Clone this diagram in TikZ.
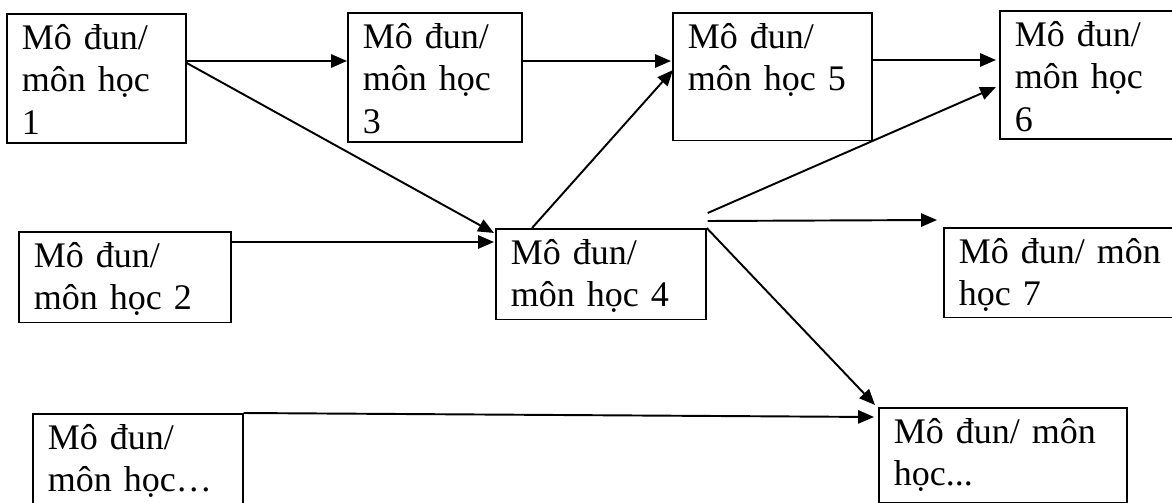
\documentclass[tikz,border=0pt]{standalone}
\usepackage{fontspec}
\setmainfont{Liberation Serif}
\usetikzlibrary{arrows.meta, calc}

\tikzset{
  modbox/.style 2 args={draw, line width=1pt, anchor=north west, align=left,
    inner xsep=0.3cm, inner ysep=2pt, text height=18pt,
    text width=#1, text depth=#2},
  arr/.style={line width=1.1pt, -{Triangle[length=9pt,width=7.5pt]}}
}

\begin{document}
\begin{tikzpicture}[x=0.02cm, y=-0.02cm, font=\fontsize{20.5}{24.4}\selectfont]
\useasboundingbox (0,0) rectangle (1172,503);

% top row
\node[modbox={2.98cm}{51.7pt}] (m1) at (6,13) {Mô đun/\\môn học\\1};
\node[modbox={2.88cm}{51.7pt}] (m3) at (347,12) {Mô đun/\\môn học\\3};
\node[modbox={3.38cm}{50.6pt}] (m5) at (672,12) {Mô đun/\\môn học 5};
\node[modbox={3.2cm}{51.1pt}] (m6) at (999,10) {Mô đun/\\môn học\\6};

% middle row
\node[modbox={3.64cm}{29.6pt}] (m2) at (18,231) {Mô đun/\\môn học 2};
\node[modbox={3.6cm}{29.6pt}] (m4) at (495,228) {Mô đun/\\môn học 4};
\node[modbox={4.2cm}{29pt}] (m7) at (943,227) {Mô đun/ môn\\học 7};

% bottom row
\node[modbox={3.6cm}{34.7pt}] (mx) at (32,413) {Mô đun/\\môn học…};
\node[modbox={4.36cm}{31.9pt}] (my) at (878,407) {Mô đun/ môn\\học...};

\draw[arr] ($(m1.north east)+(0,48)$) -- ($(m3.north west)+(0,49)$);
\draw[arr] ($(m1.north east)+(0,50)$) -- ($(m4.north west)+(-1,5)$);
\draw[arr] ($(m3.north east)+(0,49)$) -- ($(m5.north west)+(-1,49)$);
\draw[arr] ($(m4.north west)+(37,0)$) -- ($(m5.north west)+(1,58)$);
\draw[arr] ($(m5.north east)+(0,48)$) -- ($(m6.north west)+(-3,50)$);
\draw[arr] ($(m2.north east)+(0,11)$) -- ($(m4.north west)+(-1,14)$);
\draw[arr] ($(m4.north east)+(1,-15)$) -- ($(m6.north west)+(-3,77)$);
\draw[arr] ($(m4.north east)+(1,-7)$) -- ($(m7.north west)+(-6,-7)$);
\draw[arr] (m4.north east) -- ($(my.north west)+(-3,-2)$);
\draw[arr] (mx.north east) -- ($(my.north west)+(-4,10)$);

\end{tikzpicture}
\end{document}
